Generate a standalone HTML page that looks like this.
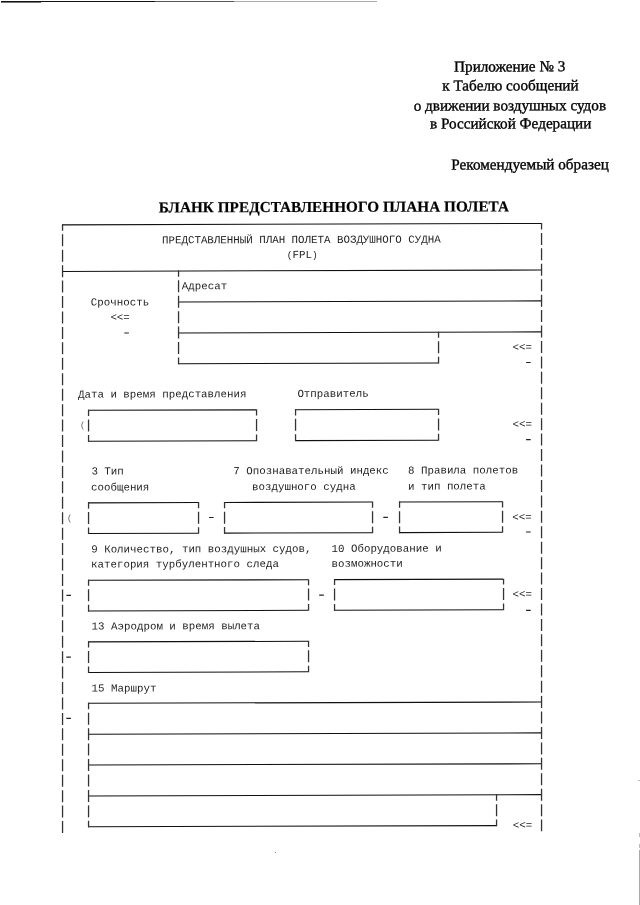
<!DOCTYPE html>
<html><head><meta charset="utf-8"><title>FPL</title>
<style>
html,body{margin:0;padding:0;background:#fff}
body{width:640px;height:905px;position:relative;overflow:hidden}
#pg{position:absolute;left:0;top:0;width:640px;height:905px;transform:skewY(-0.1662deg);transform-origin:300px 0;filter:grayscale(1)}
.s{position:absolute;font-family:"Liberation Serif",serif;font-size:15.2px;line-height:15px;color:#000;white-space:pre;-webkit-text-stroke:0.35px #000}
.b{font-weight:bold;letter-spacing:0.06px;-webkit-text-stroke:0.2px #000}
.m{position:absolute;font-family:"Liberation Mono",monospace;font-size:10.8px;line-height:15px;color:#1e1e1e;white-space:pre}
.p{font-size:9.5px;position:relative;top:-0.7px}
.q{font-size:8.5px;position:relative;top:-1.2px;color:#555}
svg{position:absolute;left:0;top:0}
line{stroke:#111;stroke-width:1.05}
line.d{stroke:#333;stroke-width:1.3;stroke-dasharray:12.0 3.44}
rect.h{fill:#222}
.tl{position:absolute;height:1px}
</style></head><body>
<div class="tl" style="left:1px;top:1px;width:154px;background:#111"></div>
<div class="tl" style="left:1px;top:2px;width:40px;background:#777"></div>
<div class="tl" style="left:155px;top:1px;width:79px;background:#555"></div>
<div class="tl" style="left:234px;top:1px;width:143px;background:#aaa"></div>
<div class="tl" style="left:639px;top:850px;width:1px;height:55px;background:#aaa"></div>
<div class="tl" style="left:639px;top:833px;width:1px;height:4px;background:#bbb"></div>
<div class="tl" style="left:639px;top:844px;width:1px;height:4px;background:#bbb"></div>
<div class="tl" style="left:638px;top:780px;width:2px;background:#bbb"></div>
<div class="tl" style="left:275px;top:852px;width:1px;background:#888"></div>
<div id="pg">
<div class="s" style="left:454.1px;top:59.1px">Приложение № 3</div>
<div class="s" style="left:442.3px;top:78.3px">к Табелю сообщений</div>
<div class="s" style="left:413.7px;top:97.5px">о движении воздушных судов</div>
<div class="s" style="left:430px;top:116.1px">в Российской Федерации</div>
<div class="s" style="left:451.3px;top:156.6px">Рекомендуемый образец</div>
<div class="s b" style="left:158.8px;top:198.8px">БЛАНК ПРЕДСТАВЛЕННОГО ПЛАНА ПОЛЕТА</div>
<svg width="640" height="905">
<line x1="62" y1="224.2" x2="542" y2="224.2"/>
<line x1="62" y1="270.71" x2="542" y2="270.71"/>
<line x1="178" y1="301.58" x2="542" y2="301.58"/>
<line x1="178" y1="332.6" x2="542" y2="332.6"/>
<line x1="178" y1="363.42" x2="438.5" y2="363.42"/>
<line x1="88" y1="409.73" x2="256" y2="409.73"/>
<line x1="88" y1="440.6" x2="256" y2="440.6"/>
<line x1="295" y1="409.73" x2="438" y2="409.73"/>
<line x1="295" y1="440.6" x2="438" y2="440.6"/>
<line x1="88" y1="502.25" x2="198" y2="502.25"/>
<line x1="88" y1="532.92" x2="198" y2="532.92"/>
<line x1="224" y1="502.25" x2="372" y2="502.25"/>
<line x1="224" y1="532.92" x2="372" y2="532.92"/>
<line x1="399" y1="502.25" x2="502" y2="502.25"/>
<line x1="399" y1="532.92" x2="502" y2="532.92"/>
<line x1="88" y1="579.73" x2="308" y2="579.73"/>
<line x1="88" y1="610.35" x2="308" y2="610.35"/>
<line x1="334" y1="579.73" x2="503" y2="579.73"/>
<line x1="334" y1="610.35" x2="503" y2="610.35"/>
<line x1="88" y1="641.27" x2="308" y2="641.27"/>
<line x1="88" y1="671.84" x2="308" y2="671.84"/>
<line x1="88" y1="702.72" x2="542" y2="702.72"/>
<line x1="88" y1="733.59" x2="542" y2="733.59"/>
<line x1="88" y1="764.46" x2="542" y2="764.46"/>
<line x1="88" y1="795.33" x2="542" y2="795.33"/>
<line x1="88" y1="826.2" x2="496.5" y2="826.2"/>
<line class="d" x1="62.55" y1="223.7" x2="62.55" y2="832.7" stroke-dashoffset="5.54"/>
<line class="d" x1="541.55" y1="223.7" x2="541.55" y2="831.9" stroke-dashoffset="5.54"/>
<line class="d" x1="178.55" y1="270.21" x2="178.55" y2="363.92" stroke-dashoffset="5.74"/>
<line class="d" x1="438.55" y1="332.1" x2="438.55" y2="363.92" stroke-dashoffset="5.89"/>
<line class="d" x1="88.55" y1="409.23" x2="88.55" y2="441.1" stroke-dashoffset="5.84"/>
<line class="d" x1="256.55" y1="409.23" x2="256.55" y2="441.1" stroke-dashoffset="5.84"/>
<line class="d" x1="295.55" y1="409.23" x2="295.55" y2="441.1" stroke-dashoffset="5.84"/>
<line class="d" x1="438.55" y1="409.23" x2="438.55" y2="441.1" stroke-dashoffset="5.84"/>
<line class="d" x1="88.55" y1="501.75" x2="88.55" y2="533.42" stroke-dashoffset="5.74"/>
<line class="d" x1="198.55" y1="501.75" x2="198.55" y2="533.42" stroke-dashoffset="5.74"/>
<line class="d" x1="224.55" y1="501.75" x2="224.55" y2="533.42" stroke-dashoffset="5.74"/>
<line class="d" x1="372.55" y1="501.75" x2="372.55" y2="533.42" stroke-dashoffset="5.74"/>
<line class="d" x1="399.55" y1="501.75" x2="399.55" y2="533.42" stroke-dashoffset="5.74"/>
<line class="d" x1="502.55" y1="501.75" x2="502.55" y2="533.42" stroke-dashoffset="5.74"/>
<line class="d" x1="88.55" y1="579.23" x2="88.55" y2="610.85" stroke-dashoffset="6.04"/>
<line class="d" x1="308.55" y1="579.23" x2="308.55" y2="610.85" stroke-dashoffset="6.04"/>
<line class="d" x1="334.55" y1="579.23" x2="334.55" y2="610.85" stroke-dashoffset="6.04"/>
<line class="d" x1="503.55" y1="579.23" x2="503.55" y2="610.85" stroke-dashoffset="6.04"/>
<line class="d" x1="88.55" y1="640.77" x2="88.55" y2="672.34" stroke-dashoffset="5.84"/>
<line class="d" x1="308.55" y1="640.77" x2="308.55" y2="672.34" stroke-dashoffset="5.84"/>
<line class="d" x1="88.55" y1="702.22" x2="88.55" y2="826.7" stroke-dashoffset="5.54"/>
<line class="d" x1="496.55" y1="794.83" x2="496.55" y2="826.7" stroke-dashoffset="5.54"/>
<rect class="h" x="124.3" y="331.89" width="4.6" height="1.2"/>
<rect class="h" x="526.1" y="362.56" width="4.6" height="1.2"/>
<rect class="h" x="526.1" y="439.76" width="4.6" height="1.2"/>
<rect class="h" x="209" y="516.64" width="4.6" height="1.2"/>
<rect class="h" x="383.3" y="516.94" width="4.6" height="1.2"/>
<rect class="h" x="526.1" y="532.06" width="4.6" height="1.2"/>
<rect class="h" x="66.4" y="594.02" width="4.6" height="1.2"/>
<rect class="h" x="319.2" y="594.66" width="4.6" height="1.2"/>
<rect class="h" x="526.1" y="610.36" width="4.6" height="1.2"/>
<rect class="h" x="66.3" y="655.92" width="4.6" height="1.2"/>
<rect class="h" x="66.3" y="717.12" width="4.6" height="1.2"/>
</svg>
<div class="m" style="left:162px;top:232.89px">ПРЕДСТАВЛЕННЫЙ ПЛАН ПОЛЕТА ВОЗДУШНОГО СУДНА</div>
<div class="m" style="left:286.8px;top:248.33px"><span class=p>(</span>FPL<span class=p>)</span></div>
<div class="m" style="left:181.8px;top:279.2px">Адресат</div>
<div class="m" style="left:90.8px;top:294.63px">Срочность</div>
<div class="m" style="left:110.4px;top:310.07px">&lt;&lt;=</div>
<div class="m" style="left:512.5px;top:340.94px">&lt;&lt;=</div>
<div class="m" style="left:78px;top:387.25px">Дата и время представления</div>
<div class="m" style="left:297.4px;top:387.25px">Отправитель</div>
<div class="m" style="left:80px;top:418.12px"><span class=q>(</span></div>
<div class="m" style="left:512.5px;top:418.12px">&lt;&lt;=</div>
<div class="m" style="left:91.4px;top:464.43px">3 Тип</div>
<div class="m" style="left:233.3px;top:464.43px">7 Опознавательный индекс</div>
<div class="m" style="left:408px;top:464.43px">8 Правила полетов</div>
<div class="m" style="left:91px;top:479.87px">сообщения</div>
<div class="m" style="left:252px;top:479.87px">воздушного судна</div>
<div class="m" style="left:408px;top:479.87px">и тип полета</div>
<div class="m" style="left:67px;top:510.74px"><span class=q>(</span></div>
<div class="m" style="left:512.2px;top:510.74px">&lt;&lt;=</div>
<div class="m" style="left:91.2px;top:541.61px">9 Количество, тип воздушных судов,</div>
<div class="m" style="left:331.5px;top:541.61px">10 Оборудование и</div>
<div class="m" style="left:91px;top:557.05px">категория турбулентного следа</div>
<div class="m" style="left:331.5px;top:557.05px">возможности</div>
<div class="m" style="left:512.5px;top:587.92px">&lt;&lt;=</div>
<div class="m" style="left:91.6px;top:618.79px">13 Аэродром и время вылета</div>
<div class="m" style="left:91.6px;top:680.53px">15 Маршрут</div>
<div class="m" style="left:512.8px;top:819.46px">&lt;&lt;=</div>
</div>
</body></html>
